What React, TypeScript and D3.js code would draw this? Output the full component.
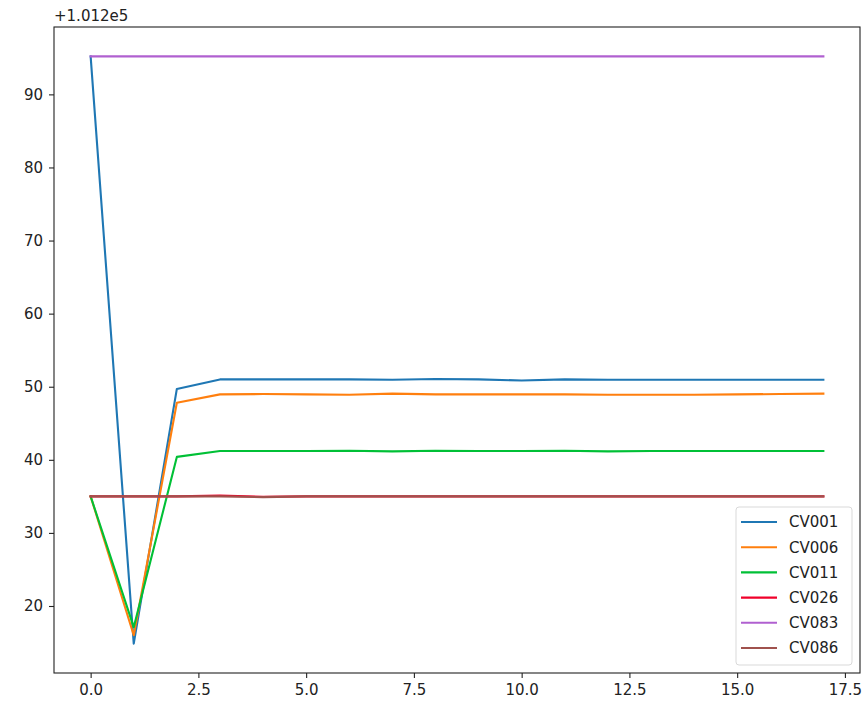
import React, { useRef, useEffect } from 'react';
import * as d3 from 'd3';

// values are offsets from 1.012e5 (as in the chart's offset label)
const steps = [0, 1, 2, 3, 4, 5, 6, 7, 8, 9, 10, 11, 12, 13, 14, 15, 16, 17];
const seriesNames = ['CV001', 'CV006', 'CV011', 'CV026', 'CV083', 'CV086'];
const cv001 = [95.2, 14.85, 49.7, 51.0, 51.0, 51.0, 51.0, 50.95, 51.05, 51.0, 50.85, 51.0, 50.95, 50.95, 50.95, 50.95, 50.95, 50.95];
const cv006 = [35.0, 16.0, 47.8, 48.95, 49.0, 48.95, 48.9, 49.05, 48.95, 48.95, 48.95, 48.95, 48.9, 48.9, 48.9, 48.95, 49.0, 49.05];
const cv011 = [35.0, 17.1, 40.4, 41.2, 41.2, 41.2, 41.25, 41.15, 41.25, 41.2, 41.2, 41.25, 41.15, 41.2, 41.2, 41.2, 41.2, 41.2];
const cv026 = [35.0, 35.0, 35.0, 35.1, 34.95, 35.0, 35.0, 35.0, 35.0, 35.0, 35.0, 35.0, 35.0, 35.0, 35.0, 35.0, 35.0, 35.0];
const cv083 = [95.2, 95.2, 95.2, 95.2, 95.2, 95.2, 95.2, 95.2, 95.2, 95.2, 95.2, 95.2, 95.2, 95.2, 95.2, 95.2, 95.2, 95.2];
const cv086 = [35.0, 35.0, 35.0, 35.0, 34.9, 35.0, 35.0, 35.0, 35.0, 35.0, 35.0, 35.0, 35.0, 35.0, 35.0, 35.0, 35.0, 35.0];
const colors = ['#1f77b4', '#ff7f0e', '#00c036', '#f0002a', '#b060d0', '#a0524d'];
const xTicks = [0, 2.5, 5, 7.5, 10, 12.5, 15, 17.5];
const yTicks = [20, 30, 40, 50, 60, 70, 80, 90];
const offsetLabel = '+1.012e5';

const App: React.FC = () => {
  const svgRef = useRef<SVGSVGElement | null>(null);

  useEffect(() => {
    if (!svgRef.current) return;
    const w = 868;
    const h = 701;
    const left = 54;
    const right = 860;
    const top = 27;
    const bottom = 673;
    const font = 'DejaVu Sans, sans-serif';
    const fs = 15;

    const svg = d3.select(svgRef.current).attr('width', w).attr('height', h);
    svg.selectAll('*').remove();
    svg.append('rect').attr('width', w).attr('height', h).attr('fill', '#fff');

    const data = [cv001, cv006, cv011, cv026, cv083, cv086];
    const allVals = data.flat();
    const yMin = d3.min(allVals) || 0;
    const yMax = d3.max(allVals) || 1;
    const xPad = (steps[steps.length - 1] - steps[0]) * 0.05;
    const yPad = (yMax - yMin) * 0.05;

    const xScale = d3
      .scaleLinear()
      .domain([steps[0] - xPad, steps[steps.length - 1] + xPad])
      .range([left, right]);
    const yScale = d3
      .scaleLinear()
      .domain([yMin - yPad, yMax + yPad])
      .range([bottom, top]);

    const line = d3
      .line<number>()
      .x((_, i) => xScale(steps[i]))
      .y((d) => yScale(d));

    const plot = svg.append('g');
    data.forEach((vals, k) => {
      plot
        .append('path')
        .datum(vals)
        .attr('d', line)
        .attr('fill', 'none')
        .attr('stroke', colors[k])
        .attr('stroke-width', 2.1)
        .attr('stroke-linejoin', 'round')
        .attr('stroke-linecap', 'square');
    });

    const xAxis = d3
      .axisBottom(xScale)
      .tickValues(xTicks)
      .tickSize(5)
      .tickPadding(6)
      .tickFormat((d) => d3.format('.1f')(Number(d)));
    const yAxis = d3
      .axisLeft(yScale)
      .tickValues(yTicks)
      .tickSize(5)
      .tickPadding(6)
      .tickFormat((d) => String(d));

    const gx = svg.append('g').attr('transform', `translate(0, ${bottom})`).call(xAxis);
    const gy = svg.append('g').attr('transform', `translate(${left}, 0)`).call(yAxis);
    [gx, gy].forEach((g) => {
      g.select('.domain').remove();
      g.selectAll('line').attr('stroke', '#222').attr('stroke-width', 1.1);
      g.selectAll('text').attr('font-family', font).attr('font-size', fs).attr('fill', '#222');
    });

    // frame
    svg
      .append('rect')
      .attr('x', left)
      .attr('y', top)
      .attr('width', right - left)
      .attr('height', bottom - top)
      .attr('fill', 'none')
      .attr('stroke', '#222')
      .attr('stroke-width', 1.1);

    svg
      .append('text')
      .attr('x', left)
      .attr('y', top - 6)
      .attr('font-family', font)
      .attr('font-size', fs)
      .attr('fill', '#222')
      .text(offsetLabel);

    // legend
    const lx = 736;
    const ly = 507;
    const lg = svg.append('g').attr('transform', `translate(${lx}, ${ly})`);
    lg.append('rect')
      .attr('width', 116)
      .attr('height', 158)
      .attr('rx', 3)
      .attr('fill', '#fff')
      .attr('fill-opacity', 0.8)
      .attr('stroke', '#d9d9d9')
      .attr('stroke-width', 1);
    seriesNames.forEach((name, k) => {
      const cy = 15 + k * 25.2;
      lg.append('line')
        .attr('x1', 5)
        .attr('x2', 41)
        .attr('y1', cy)
        .attr('y2', cy)
        .attr('stroke', colors[k])
        .attr('stroke-width', 2.1);
      lg.append('text')
        .attr('x', 53)
        .attr('y', cy)
        .attr('dy', '0.36em')
        .attr('font-family', font)
        .attr('font-size', fs)
        .attr('fill', '#222')
        .text(name);
    });
  }, []);

  return (
    <div style={{ position: 'absolute', left: 0, top: 0 }}>
      <svg ref={svgRef} style={{ display: 'block' }}></svg>
    </div>
  );
};

export default App;
